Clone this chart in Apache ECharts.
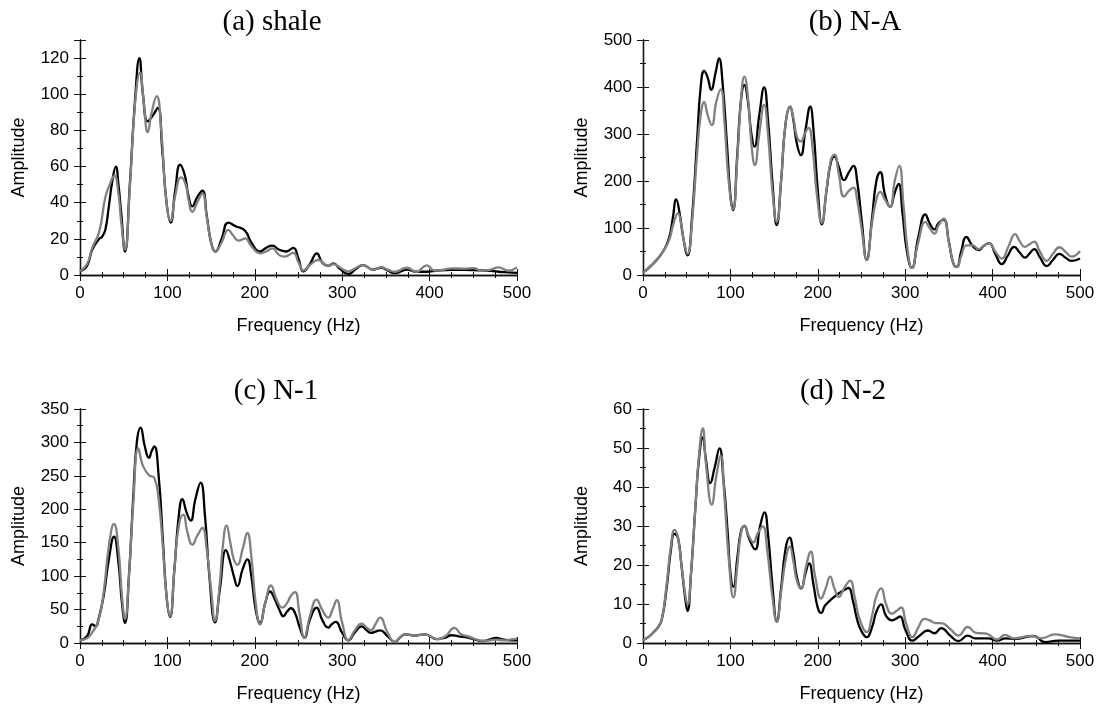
<!DOCTYPE html>
<html>
<head>
    <meta charset="utf-8" />
    <title>Amplitude spectra</title>
    <script src="https://cdn.jsdelivr.net/npm/echarts@6/dist/echarts.min.js"></script>
    <style type="text/css">
        * { margin: 0; padding: 0; }
        html, body { width: 100%; height: 100%; background: #fff; }
        #main { width: 1099px; height: 706px; }
    </style>
</head>
<body>
    <div id="main"></div>
</body>
</html>
<script type="text/javascript">
    // [frequency Hz, amplitude]
    var shaleBlack = [[0,2],[8,5],[14,14],[22,20],[25,21],[29,25],[33,38],[37,52],[41,60],[44,50],[47,35],[51.5,13],[57,50],[63,97],[68,120],[72,100],[77.5,85],[83,88],[89,92.5],[94,70],[99,40],[103.7,29],[109,47],[114.5,61],[120,55],[124,44],[128.5,38],[134,43],[140,46.6],[145,33],[150,18],[155,13],[162,20],[169.7,29],[178,27],[188.8,24.5],[196,18],[206,13],[213,15],[220,16.2],[228,14],[236,13],[244,15],[250,9],[255.5,2],[263,6],[271,12],[277,7],[284,5],[290,6.4],[297,3.5],[307,0.6],[316,3.5],[324,5.5],[335,3],[345,4],[352,2.5],[360,1],[374,3],[385,1.8],[396,1.8],[410,2.5],[425,2.8],[440,2.8],[455,2.6],[466,2.4],[479,1.8],[490,1.5],[500,1.2]];
    var shaleGray = [[0,2],[8,6],[14,15],[22,24],[29,43],[34,50],[39.3,55],[44,45],[47,30],[51.5,14],[57,48],[63,95],[68.7,112],[73,95],[77.5,79],[82,90],[87.7,99],[93,80],[98,45],[103.7,30],[109,44],[115.6,54],[121,50],[124,42],[128.5,35],[134,40],[140,45],[145,32],[150,18],[155,13],[162,18],[169.7,25],[175,22],[181.7,19],[188.8,20.3],[196,16],[206,12],[213,13],[220,14.7],[228,11],[234,10.2],[244,12.2],[250,7],[255.5,2.5],[263,5.5],[272.7,8.3],[280,6],[284,5],[290,6],[298,4],[307,2],[316,4],[324,5.5],[335,3],[345,4.2],[352,3],[360,1.8],[374,4],[385,1.8],[396.6,5.3],[406,2.4],[416,3],[425,3.7],[440,3.5],[450,3.8],[460,2.4],[470,3],[478.6,4.2],[490,2.4],[500,4.2]];

    var naBlack = [[0,5],[10,21],[23,50],[30,80],[34,120],[38,161],[42,130],[46,80],[51,42],[56,120],[62,290],[66,400],[70,434],[74,420],[78,394],[83,430],[87,461],[91,410],[96,280],[100,170],[103,138],[108,260],[112,370],[116,404],[120,370],[124,300],[127.6,273],[133,340],[138.6,399],[143,330],[148,200],[153,106],[158,200],[163,320],[168.4,358],[172,330],[176,280],[180.6,255],[186,310],[191.3,358],[195,310],[200,180],[204.6,108],[210,180],[215,240],[219,252],[224,230],[230,202],[236,220],[240.8,232],[245,200],[250,120],[256,32],[262,120],[267,200],[271.4,219],[277,170],[282.8,145],[288,175],[292.4,194],[297,130],[302,50],[307.6,15],[315,80],[323,129],[328,110],[333.5,97],[338,110],[344,118],[350,70],[355,25],[359,17],[364,50],[370,81],[377,62],[384,53],[390,62],[396,68],[403,45],[410.6,23],[417,40],[424.7,60],[431,48],[437,37],[442,45],[447.6,55],[454,38],[462,19],[469,32],[476.5,45],[484,36],[490.6,30],[500,35]];
    var naGray = [[0,5],[10,21],[23,50],[30,75],[35,110],[39.9,131],[44,105],[47,70],[51,45],[56,110],[62,260],[66,340],[70,368],[74,340],[78.7,319],[84,370],[89,395],[93,330],[98,200],[103,140],[108,250],[112,370],[116,422],[120,380],[124,280],[128,234],[133,300],[138.6,362],[143,300],[148,180],[153,113],[158,200],[163,320],[168.4,358],[172,335],[176,295],[180.6,284],[185,300],[189.4,313],[194,270],[199,170],[204.6,111],[210,180],[215,245],[219,256],[224,215],[230,167],[236,180],[240.8,186],[245,160],[250,100],[256,32],[262,110],[267,160],[271.4,177],[277,160],[282.8,145],[288,200],[293.2,232],[298,150],[303,50],[307.6,15],[315,70],[323,113],[328,100],[333.5,88],[338,105],[344,120],[350,70],[355,25],[359,17],[364,40],[370,63],[377,63],[384,55],[390,62],[396,68],[403,50],[410.6,35],[418,60],[425.8,87],[431,72],[437,60],[442,65],[447.6,71],[454,50],[462,30],[469,45],[476.5,59],[484,48],[490.6,39],[500,51]];

    var n1Black = [[0,4],[8,10],[14,28],[18,25],[21,35],[27,70],[33,125],[38.9,159],[44,120],[48,60],[51.5,30],[56,100],[61,220],[65,300],[69.4,322],[74,295],[78.9,277],[82,287],[85,294],[90,250],[95,150],[99,70],[103,39],[108,110],[113,190],[117.1,215],[122,195],[126.6,183],[132,215],[138,240],[143,190],[148,100],[154.5,31],[160,80],[167,139],[172,120],[176,100],[180,85],[186,110],[191.5,125],[196,100],[201,50],[206,30],[212,60],[217.4,77],[223,65],[228,50],[232.7,40],[237,47],[241.4,52],[246,45],[251,25],[256.7,8],[263,35],[270.8,53],[277,35],[284,23],[288,28],[292.5,31.6],[300,15],[307,4],[314,15],[322.3,25],[328,19],[333,15],[338,17],[343.3,19],[352,10],[360.4,1.5],[366,8],[372,13],[383,11],[394.6,13],[408,5.8],[418,8],[425,11.6],[433,10],[444,8],[452,5],[461.5,3],[469,5.5],[476,7.5],[485,5],[492,4],[500,4]];
    var n1Gray = [[0,4],[8,7],[14,16],[21,33],[27,75],[33,145],[38.9,178],[44,140],[48,70],[51.5,36],[56,100],[61,210],[66.7,291],[72,265],[78.9,251],[85,247],[90,215],[95,140],[99,70],[103,40],[108,110],[113,175],[118.2,192],[123,165],[128.5,147],[134,160],[140,172],[145,140],[150,80],[154.5,33],[160,90],[163,140],[167.8,175.5],[172,150],[176,125],[180,117],[186,140],[191.5,164.5],[196,130],[201,60],[206,28],[212,60],[218.5,86],[225,65],[231.5,53],[237,60],[241,70],[246,76],[251,45],[256.7,8],[263,40],[270.8,65],[277,50],[284,38],[289,50],[293.7,64],[300,30],[307,4],[314,18],[322.3,29],[328,23],[333,19],[338,28],[343.3,38],[352,15],[360.4,1.5],[366,8],[372,13],[383,11],[394.6,13],[408,5.8],[418,10],[428.3,22.6],[436,13],[444,10],[452,6],[461.5,3],[469,4],[476,5],[485,4],[492,5],[500,6.5]];

    var n2Black = [[0,0.8],[6,1.5],[12.3,2.8],[17,4],[21.5,6],[27,14],[32,24],[36,28],[40,27],[44,20],[48,12],[50.9,8.2],[55,18],[60,35],[64,47],[68.4,52.7],[72,47],[76.9,41],[82,45],[87.5,49.9],[92,42],[97,28],[100,18],[103.5,14.4],[108,22],[112,28.5],[116.1,30],[121,27],[128.3,24],[134,30],[139,33.5],[143,28],[148,15],[153.1,5.5],[158,14],[163,24],[167.6,27],[172,23],[176,17],[181,14],[186,18],[190,20.4],[195,15],[200,9],[203.8,7.7],[208,9.5],[212.2,10.5],[217,11.5],[223.7,12.7],[229,13.4],[235,14.1],[240,11],[245,6],[250,3],[256,1.5],[262,4],[267,8],[272.5,9.9],[278,7],[284.7,5.8],[290,6.3],[294.2,6.8],[300,3.5],[308.4,0.6],[316,1.8],[326,3.2],[333.5,2.5],[341.2,3.8],[351.5,1.9],[361,0.5],[371.6,1.9],[380,1.2],[395,1.2],[405,0.6],[415,1.2],[425,1],[447,1.8],[460,0.2],[475,0.6],[500,0.6]];
    var n2Gray = [[0,0.8],[6,1.5],[12.3,2.8],[17,4],[21.5,6],[27,15],[32,25],[36.1,29],[40,27],[44,20],[48,13],[50.9,9.9],[55,18],[60,35],[64,48],[68.4,55],[72,46],[78.7,35.5],[84,43],[89,48],[93,38],[98,22],[103.5,11.7],[108,20],[112,28],[116.1,30.1],[121,27.5],[126.4,25.8],[131,28],[137,29.9],[142,24],[148,12],[153.1,5.5],[158,13],[163,21],[168,24.7],[172,21],[176,16],[181,14],[186,19],[192,23.4],[197,17],[203.8,11.4],[209,14],[214.1,17],[219,14],[224,11.8],[230,14],[237,16],[242,12],[248,6],[256,2.8],[262,7],[267,12],[272.5,14],[278,10],[284.7,7.5],[290,8.2],[295.4,9.1],[301,5],[308.4,1.5],[315,4],[322,6.2],[328,5.8],[335,5.1],[341,5.1],[351.5,3.6],[361,1.9],[371.6,4.1],[381,2.6],[393,2.4],[405,0.9],[414,2.1],[424,1.2],[444,1.8],[456,1.2],[471,2.2],[488,1.5],[500,1.2]];

    var panelTitles = ['(a) shale', '(b) N-A', '(c) N-1', '(d) N-2'];
    var titleX = [267, 850, 271, 838];
    var titleTop = [3, 3, 372, 372];
    var yMax = [130, 500, 350, 60];
    var yStep = [20, 100, 50, 10];
    var blackData = [shaleBlack, naBlack, n1Black, n2Black];
    var grayData = [shaleGray, naGray, n1Gray, n2Gray];

    var grids = [
        { left: 80, top: 40, width: 437, height: 235 },
        { left: 643, top: 40, width: 437, height: 235 },
        { left: 80, top: 409, width: 437, height: 234 },
        { left: 643, top: 409, width: 437, height: 234 }
    ];

    var sans = 'Liberation Sans';
    var frame = { show: true, lineStyle: { color: '#111', width: 1.3 } };

    var option = {
        animation: false,
        backgroundColor: '#fff',
        title: [],
        grid: grids,
        xAxis: [],
        yAxis: [],
        series: []
    };

    for (var i = 0; i < 4; i++) {
        option.title.push({
            text: panelTitles[i], left: titleX[i], top: titleTop[i], textAlign: 'center',
            textStyle: { fontFamily: 'Liberation Serif', fontSize: 29, fontWeight: 'normal', color: '#000' }
        });
        // bottom and top x axes
        option.xAxis.push({
            type: 'value', gridIndex: i, position: 'bottom', min: 0, max: 500, interval: 100,
            name: 'Frequency (Hz)', nameLocation: 'middle', nameGap: 42,
            nameTextStyle: { fontFamily: sans, fontSize: 18, color: '#000' },
            axisLine: frame,
            axisTick: { show: true, inside: false, length: 6, lineStyle: { color: '#111' } },
            minorTick: { show: true, splitNumber: 4, length: 3, lineStyle: { color: '#111' } },
            axisLabel: { fontFamily: sans, fontSize: 17, color: '#000', margin: 10 },
            splitLine: { show: false }
        });
        option.xAxis.push({
            type: 'value', gridIndex: i, position: 'top', min: 0, max: 500, interval: 100,
            axisLine: frame,
            axisTick: { show: true, inside: false, length: 6, lineStyle: { color: '#111' } },
            minorTick: { show: true, splitNumber: 4, length: 3, lineStyle: { color: '#111' } },
            axisLabel: { show: false },
            splitLine: { show: false }
        });
        // left and right y axes
        option.yAxis.push({
            type: 'value', gridIndex: i, position: 'left', min: 0, max: yMax[i], interval: yStep[i],
            name: 'Amplitude', nameLocation: 'middle', nameGap: 52,
            nameTextStyle: { fontFamily: sans, fontSize: 18, color: '#000' },
            axisLine: frame,
            axisTick: { show: true, inside: false, length: 6, lineStyle: { color: '#111' } },
            minorTick: { show: true, splitNumber: 2, length: 3, lineStyle: { color: '#111' } },
            axisLabel: { fontFamily: sans, fontSize: 17, color: '#000', margin: 11, showMaxLabel: i != 0 },
            splitLine: { show: false }
        });
        option.yAxis.push({
            type: 'value', gridIndex: i, position: 'right', min: 0, max: yMax[i], interval: yStep[i],
            axisLine: frame,
            axisTick: { show: true, inside: false, length: 6, lineStyle: { color: '#111' } },
            minorTick: { show: true, splitNumber: 2, length: 3, lineStyle: { color: '#111' } },
            axisLabel: { show: false },
            splitLine: { show: false }
        });

        option.series.push({
            type: 'line', xAxisIndex: i * 2, yAxisIndex: i * 2, data: blackData[i],
            showSymbol: false, smooth: 0.5, clip: true,
            lineStyle: { color: '#000', width: 2.3 }
        });
        option.series.push({
            type: 'line', xAxisIndex: i * 2, yAxisIndex: i * 2, data: grayData[i],
            showSymbol: false, smooth: 0.5, clip: true,
            lineStyle: { color: '#808080', width: 2.3 }
        });
    }

    var myChart = echarts.init(document.getElementById('main'));
    myChart.setOption(option);
</script>
